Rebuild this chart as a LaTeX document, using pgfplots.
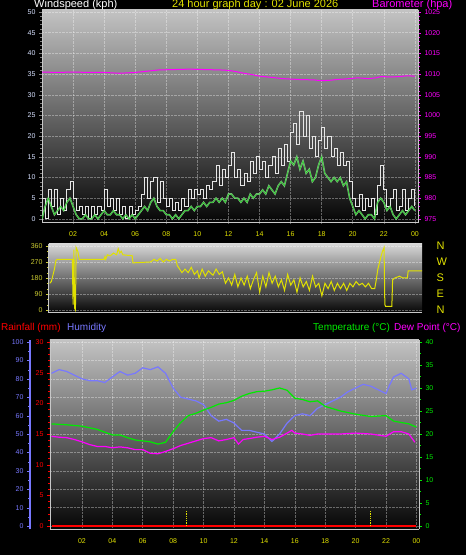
\documentclass[border=0pt]{standalone}
\usepackage{pgfplots}
\pgfplotsset{compat=1.18}
\usepackage{pgfplotstable}
\usepackage{fontspec}
\setmainfont{Liberation Sans}
\definecolor{ylw}{RGB}{225,225,0}
\definecolor{olv}{RGB}{205,205,50}
\definecolor{hum}{RGB}{120,120,255}
\definecolor{mag}{RGB}{255,0,255}
\definecolor{tgreen}{RGB}{0,235,0}
\definecolor{rred}{RGB}{255,0,0}
\definecolor{lblue}{RGB}{215,225,255}
\definecolor{bgtop}{RGB}{195,195,195}
\definecolor{bgtopm}{RGB}{215,215,215}
\definecolor{bgbot}{RGB}{5,5,5}
\definecolor{frame}{RGB}{200,200,200}
\definecolor{gust}{RGB}{230,230,230}
\definecolor{avgl}{RGB}{160,235,160}
\definecolor{avgd}{RGB}{30,210,30}

\pgfplotstableread{
t g a
0.0 5 0
0.2 0 3
0.4 7 5
0.6 3 3
0.8 7 1
1.0 1 2
1.2 5 3
1.4 2 2
1.6 7 4
1.8 9 5
2.0 5 3
2.2 2 1
2.4 3 0
2.6 1 0
2.8 3 1
3.0 0 0
3.2 3 0
3.4 1 1
3.6 3 0
3.8 2 1
4.0 7 2
4.2 3 1
4.4 5 1
4.6 2 2
4.8 5 1
5.0 1 1
5.2 3 0
5.4 0 1
5.6 3 0
5.8 1 1
6.0 2 0
6.2 3 1
6.4 6 2
6.6 10 3
6.8 5 2
7.0 9 4
7.2 10 5
7.4 4 3
7.6 9 2
7.8 5 2
8.0 3 1
8.2 5 1
8.4 2 0
8.6 4 1
8.8 2 0
9.0 5 1
9.2 3 2
9.4 7 2
9.6 5 3
9.8 7 2
10.0 6 3
10.2 7 3
10.4 5 4
10.6 8 3
10.8 7 4
11.0 9 4
11.2 13 5
11.4 8 4
11.6 12 5
11.8 10 4
12.0 13 6
12.2 16 6
12.4 10 5
12.6 12 5
12.8 8 4
13.0 11 5
13.2 9 4
13.4 14 6
13.6 11 5
13.8 15 6
14.0 12 6
14.2 14 7
14.4 10 6
14.6 13 8
14.8 15 7
15.0 11 6
15.2 17 8
15.4 13 9
15.6 18 8
15.8 14 11
16.0 21 14
16.2 23 13
16.4 18 15
16.6 26 12
16.8 20 14
17.0 25 11
17.2 17 12
17.4 20 9
17.6 15 10
17.8 19 13
18.0 22 15
18.2 17 11
18.4 20 10
18.6 15 9
18.8 17 10
19.0 13 9
19.2 16 10
19.4 13 8
19.6 14 9
19.8 9 5
20.0 5 3
20.2 3 1
20.4 6 2
20.6 2 1
20.8 5 0
21.0 3 1
21.2 5 1
21.4 1 0
21.6 8 4
21.8 13 5
22.0 7 4
22.2 3 2
22.4 5 3
22.6 7 1
22.8 2 0
23.0 3 1
23.2 7 2
23.4 2 1
23.6 5 2
23.8 7 3
24.0 3 2
}\windtab

\pgfplotsset{
  base/.style={scale only axis, anchor=south west,
    /pgf/number format/assume math mode=true,
    /pgf/number format/1000 sep={},
    tick label style={font=\fontsize{7}{8}\selectfont},
    tick align=outside, major tick length=3pt, minor tick length=2pt},
  gridst/.style={major grid style={densely dotted, white, opacity=0.35, line width=0.5pt}},
}

\begin{document}
\begin{tikzpicture}
\fill[black] (0pt,0pt) rectangle (466pt,555pt);
\useasboundingbox (0pt,0pt) rectangle (466pt,555pt);

% ---------------- top panel: wind speed ----------------
\begin{axis}[base, gridst, at={(42pt,332pt)}, width=376pt, height=213pt,
  xmin=0, xmax=24.2, ymin=-1, ymax=50.5,
  axis background/.style={top color=bgtop, bottom color=bgbot},
  axis x line*=bottom, axis y line*=left,
  axis line style={-, frame, line width=1pt},
  xtick={2,4,...,24}, xticklabels={02,04,06,08,10,12,14,16,18,20,22,00},
  xticklabel style={ylw, yshift=-2pt}, xtick style={draw=none},
  ytick={0,5,...,50}, minor y tick num=4,
  yticklabel style={lblue}, ytick style={gray},
  xmajorgrids, ymajorgrids]
\addplot[const plot, gust, line width=0.9pt] table[x=t,y=g]{\windtab};
\addplot[avgl, line width=1.6pt, opacity=0.75] table[x=t,y=a]{\windtab};
\addplot[avgd, line width=0.5pt] table[x=t,y=a]{\windtab};
\end{axis}

\begin{axis}[base, at={(42pt,332pt)}, width=376pt, height=213pt,
  xmin=0, xmax=24.2, ymin=974, ymax=1025.5,
  axis x line=none, axis y line*=right,
  axis line style={-, frame, line width=1pt},
  ytick={975,980,...,1025}, minor y tick num=4,
  yticklabel style={mag}, ytick style={mag}]
\addplot[mag, line width=1pt] coordinates {
(0,1010.5)(1,1010.4)(2,1010.5)(3,1010.4)(4,1010.4)(5,1010.2)(6,1010.4)(7,1010.8)
(7.5,1011)(8.5,1011.1)(9.5,1011.2)(10.5,1011.1)(11.5,1011)(12,1010.9)(12.5,1010.6)
(13,1010.2)(13.5,1009.9)(14,1009.5)(14.8,1009.2)(15.5,1008.9)(16.5,1008.7)(17.5,1008.6)
(18,1008.4)(18.5,1008.5)(19,1008.7)(19.8,1008.9)(20.3,1009.1)(21,1008.9)(21.5,1009.1)
(21.8,1009.4)(22.5,1009.3)(23,1009.4)(23.5,1009.6)(24,1009.5)};
\end{axis}

% ---------------- middle panel: wind direction ----------------
\begin{axis}[base, gridst, at={(49pt,242pt)}, width=373pt, height=69pt,
  xmin=0.45, xmax=24.44, ymin=-17, ymax=371,
  axis background/.style={top color=bgtopm, bottom color=bgbot},
  axis x line*=bottom, axis y line*=left,
  axis line style={-, frame, line width=1pt},
  xtick=\empty,
  ytick={0,90,...,360}, minor y tick num=2,
  yticklabel style={olv}, ytick style={olv},
  ymajorgrids]
\addplot[ylw, line width=1pt] coordinates {
(0.5,150)(0.6,160)(0.8,230)(0.9,280)(1.0,285)(1.95,285)(2.0,30)(2.05,340)(2.1,10)(2.15,0)
(2.2,350)(2.3,330)(2.4,285)(4.0,285)(4.05,300)(4.1,285)(4.2,310)(4.4,305)(4.6,320)(4.8,310)
(4.9,345)(5.0,320)(5.1,330)(5.2,310)(5.8,305)(5.85,265)(7.0,270)(7.2,285)(7.4,275)(7.6,290)
(7.8,270)(8.0,285)(8.2,275)(8.4,285)(8.6,285)(8.7,250)(9.0,210)(9.2,230)(9.4,210)(9.6,240)
(9.8,200)(10.0,220)(10.1,180)(10.3,230)(10.5,190)(10.7,220)(11.0,195)(11.2,230)(11.4,200)
(11.6,215)(11.8,150)(12.0,180)(12.2,140)(12.4,200)(12.6,130)(12.8,180)(13.0,140)(13.2,190)
(13.4,120)(13.6,170)(13.8,210)(14.0,100)(14.2,190)(14.4,130)(14.6,210)(14.8,150)(15.0,190)
(15.2,130)(15.4,170)(15.6,110)(15.8,200)(16.0,140)(16.2,170)(16.4,100)(16.6,180)(16.8,130)
(17.0,160)(17.2,110)(17.4,190)(17.6,130)(17.8,150)(18.0,80)(18.2,150)(18.4,120)(18.6,160)
(18.8,110)(19.0,150)(19.2,120)(19.4,150)(19.6,110)(19.8,150)(20.0,130)(20.2,160)(20.4,140)
(20.6,150)(20.8,130)(21.0,150)(21.2,120)(21.4,120)(21.5,170)(21.6,230)(21.8,300)(21.9,330)
(22.0,350)(22.05,30)(22.1,20)(22.5,20)(22.55,170)(22.7,180)(23.0,190)(23.2,180)(23.5,180)
(23.55,220)(24.0,220)(24.44,220)};
\end{axis}

\begin{axis}[base, at={(49pt,242pt)}, width=373pt, height=69pt,
  xmin=0.45, xmax=24.44, ymin=-17, ymax=371,
  axis x line=none, axis y line*=right, y axis line style={draw=none},
  ytick={0,90,180,270,360}, yticklabels={N,E,S,W,N}, ytick style={draw=none},
  yticklabel style={ylw, font=\fontsize{11}{12}\selectfont, xshift=8pt}]
\end{axis}

% ---------------- bottom panel ----------------
\begin{axis}[base, gridst, at={(50pt,26pt)}, width=369pt, height=189pt,
  xmin=-0.1, xmax=24.17, ymin=-1.6, ymax=101.1,
  axis background/.style={top color=bgtop, bottom color=bgbot},
  axis x line*=bottom, axis y line*=left,
  x axis line style={-, frame, line width=1pt},
  y axis line style={-, hum, line width=1.5pt, xshift=-20pt},
  xtick={2,4,...,24}, xticklabels={02,04,06,08,10,12,14,16,18,20,22,00},
  xticklabel style={ylw, yshift=-3pt}, xtick style={draw=none},
  ytick={0,10,...,100}, minor y tick num=1,
  ytick style={hum, xshift=-20pt},
  yticklabel style={hum, xshift=-20pt},
  xmajorgrids, ymajorgrids]
\addplot[hum, line width=1.2pt] coordinates {
(0,83)(0.5,85)(1.0,84)(1.5,82)(2.0,80)(2.5,79)(3.0,79)(3.5,78)(4.0,81)(4.5,84)(5.0,82)
(5.5,83)(6.0,86)(6.5,85)(7.0,86.5)(7.5,83)(8.0,75)(8.5,70)(9.0,69)(9.5,68)(10.0,66)
(10.5,60)(11.0,57)(11.5,58)(12.0,56)(12.5,52)(13.0,52)(13.5,51)(14.0,50)(14.5,46)
(15.0,50)(15.5,56)(16.0,60)(16.5,61)(17.0,60)(17.5,64)(18.0,66)(18.5,68)(19.0,70)
(19.5,73)(20.0,75)(20.5,77)(21.0,76)(21.5,74)(22.0,72)(22.2,76)(22.5,81)(23.0,83)
(23.5,80)(23.7,74)(24.0,75)};
\end{axis}

\begin{axis}[base, at={(50pt,26pt)}, width=369pt, height=189pt,
  xmin=-0.1, xmax=24.17, ymin=-0.49, ymax=30.33,
  axis x line=none, axis y line*=left, y axis line style={-, frame, line width=1pt},
  ytick={0,5,...,30}, minor y tick num=4,
  ytick style={rred}, yticklabel style={rred}]
\addplot[rred, line width=2pt] coordinates {(0.05,0) (24.0,0)};
\addplot[ylw, densely dotted, line width=0.8pt] coordinates {(8.9,0) (8.9,2.5)};
\addplot[ylw, densely dotted, line width=0.8pt] coordinates {(21,0) (21,2.5)};
\end{axis}

\begin{axis}[base, at={(50pt,26pt)}, width=369pt, height=189pt,
  xmin=-0.1, xmax=24.17, ymin=-0.65, ymax=40.43,
  axis x line=none, axis y line*=right, y axis line style={-, frame, line width=1pt},
  ytick={0,5,...,40}, minor y tick num=1,
  ytick style={tgreen}, yticklabel style={tgreen}]
\addplot[tgreen, line width=1.2pt] coordinates {
(0,22.2)(1,22)(2,21.7)(3,21)(4,19.8)(4.5,19.8)(5,19.2)(5.5,18.7)(6,18.5)(6.5,18.3)
(7.0,17.8)(7.5,18.2)(8,20.5)(8.5,22.5)(9.0,24)(9.5,24.5)(10.0,25.2)(10.5,25.8)(11.0,26.5)
(11.5,26.8)(12.0,27.3)(12.5,28.2)(13.0,28.8)(13.5,29.2)(14.0,29.3)(14.5,29.6)(15.0,30)
(15.5,29.5)(16.0,27.8)(16.5,27.5)(17.0,27)(17.5,27.2)(18.0,26)(18.5,25.5)(19.0,25)
(20.0,24.3)(21.0,23.8)(22.0,24)(22.5,22.8)(23.0,22.5)(23.5,22.2)(24.0,21.5)};
\addplot[mag, line width=1.2pt] coordinates {
(0,19.5)(0.5,19.3)(1.0,19.2)(1.5,18.8)(2.0,18.3)(2.5,17.7)(3.0,17.3)(3.5,17.3)(4.0,17)
(4.5,17.2)(5.0,17)(5.5,16.6)(6.0,16.6)(6.5,15.8)(7.0,15.7)(7.5,16.2)(8.0,16.8)(8.5,17.5)
(9.0,18)(9.5,18.5)(10.0,19)(10.5,19.2)(11.0,18.5)(11.5,18.8)(12.0,19.2)(12.3,17.8)
(12.6,18.8)(13.0,19)(13.5,19.3)(14.0,19.5)(14.5,18.8)(15.0,19.3)(15.5,20.2)(15.8,20.8)
(16.0,20.2)(16.5,20)(17.0,19.7)(17.5,20)(18.0,20)(19.0,20)(20.0,20.2)(21.0,20)(22.0,19.5)
(22.5,20.5)(23.0,20.5)(23.5,20)(23.9,18.2)};
\end{axis}

% ---------------- titles ----------------
\node[anchor=base west, white, font=\fontsize{11}{12}\selectfont, inner sep=0] at (34pt,547pt) {Windspeed (kph)};
\node[anchor=base west, ylw, font=\fontsize{11}{12}\selectfont, inner sep=0] at (172pt,547pt) {24 hour graph day : 02 June 2026};
\node[anchor=base west, mag, font=\fontsize{11}{12}\selectfont, inner sep=0] at (372pt,547pt) {Barometer (hpa)};
\node[anchor=base west, rred, font=\fontsize{10}{12}\selectfont, inner sep=0] at (1pt,224pt) {Rainfall (mm)};
\node[anchor=base west, hum, font=\fontsize{10}{12}\selectfont, inner sep=0] at (67pt,224pt) {Humidity};
\node[anchor=base west, tgreen, font=\fontsize{10}{12}\selectfont, inner sep=0] at (313pt,224pt) {Temperature (°C)};
\node[anchor=base west, mag, font=\fontsize{10}{12}\selectfont, inner sep=0] at (394pt,224pt) {Dew Point (°C)};
\end{tikzpicture}
\end{document}
